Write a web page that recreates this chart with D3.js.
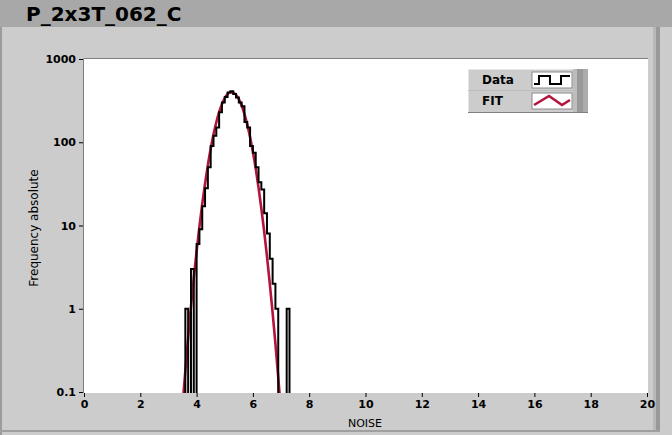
<!DOCTYPE html>
<html><head><meta charset="utf-8">
<script src="https://cdn.jsdelivr.net/npm/d3@7"></script>
<style>
html,body{margin:0;padding:0;background:#cccccc;}
svg{display:block;}
text{font-family:"DejaVu Sans",Verdana,sans-serif;}
</style></head>
<body>
<svg id="chart" width="672" height="435"></svg>
<script>
// ---- data ----
const chartTitle = "P_2x3T_062_C";
const binStart = [3.6,3.7,3.8,3.9,4.0,4.1,4.2,4.3,4.4,4.5,4.6,4.7,4.8,4.9,5.0,5.1,5.2,5.3,5.4,5.5,5.6,5.7,5.8,5.9,6.0,6.1,6.2,6.3,6.4,6.5,6.6,6.7,6.8,6.9,7.0,7.1,7.2];
const dataCounts = [1,0,3,0,6,9,17,28,50,90,120,150,230,300,350,395,410,380,345,300,270,175,150,90,75,50,33,27,14,8,4,2,1,0,0,0,1];
const binWidth = 0.1;
const fitX = [3.5,3.6,3.7,3.8,3.9,4.0,4.1,4.2,4.3,4.4,4.5,4.6,4.7,4.8,4.9,5.0,5.1,5.2,5.3,5.4,5.5,5.6,5.7,5.8,5.9,6.0,6.1,6.2,6.3,6.4,6.5,6.6,6.7,6.8,6.9,7.0];
const fitY = [0.069,0.18,0.45,1.06,2.35,4.9,9.7,18.1,31.9,53.1,83.4,124,174,230,287,339,378,398,396,372,330,276,218,163,115,76.6,48.2,28.6,16.0,8.5,4.25,2.0,0.90,0.38,0.15,0.057];
const xTicks = [0,2,4,6,8,10,12,14,16,18,20];
const yTicks = [0.1,1,10,100,1000];
const yTickLabels = ["0.1","1","10","100","1000"];
const legendNames = ["Data","FIT"];
const xLabel = "NOISE";
const yLabel = "Frequency absolute";

// ---- layout ----
const svg = d3.select("#chart");
const W = 672, H = 435;
const x = d3.scaleLinear().domain([0,20]).range([84,647]);
const y = d3.scaleLog().domain([0.1,1000]).range([392,59]);
const dataColor = "#000000", fitColor = "#b4143c";

// background & frame
svg.append("rect").attr("x",0).attr("y",0).attr("width",W).attr("height",H).attr("fill","#cccccc");
svg.append("rect").attr("x",0).attr("y",0).attr("width",W).attr("height",27).attr("fill","#a8a8a8");
svg.append("rect").attr("x",0).attr("y",27).attr("width",2).attr("height",H-27).attr("fill","#9c9c9c");
svg.append("rect").attr("x",653).attr("y",27).attr("width",3).attr("height",404).attr("fill","#b8b8b8");
svg.append("rect").attr("x",656).attr("y",27).attr("width",4).attr("height",404).attr("fill","#999999");
svg.append("rect").attr("x",0).attr("y",430).attr("width",660).attr("height",2).attr("fill","#a0a0a0");
svg.append("text").attr("x",26).attr("y",21).attr("font-size",20).attr("font-weight","bold")
  .attr("fill","#000").text(chartTitle);

// plot area
svg.append("rect").attr("x",83).attr("y",58).attr("width",565).attr("height",335).attr("fill","#ffffff");
svg.append("path").attr("d","M83.5,393V58.5H648").attr("fill","none").attr("stroke","#808080").attr("stroke-width",1);

svg.append("clipPath").attr("id","clip").append("rect").attr("x",83).attr("y",58).attr("width",565).attr("height",335);
const g = svg.append("g").attr("clip-path","url(#clip)");

// fit line
const fitPts = fitX.map((v,i)=>[v,fitY[i]]);
g.append("path").datum(fitPts)
  .attr("d", d3.line().x(d=>x(d[0])).y(d=>y(Math.max(d[1],0.01))).curve(d3.curveMonotoneX))
  .attr("fill","none").attr("stroke",fitColor).attr("stroke-width",2.6);

// data histogram (step)
const floorV = 0.01;
const stepPts = [[binStart[0], floorV]];
binStart.forEach((b,i)=>{
  const v = dataCounts[i] > 0 ? dataCounts[i] : floorV;
  stepPts.push([b, v]); stepPts.push([b+binWidth, v]);
});
stepPts.push([binStart[binStart.length-1]+binWidth, floorV]);
g.append("path").datum(stepPts)
  .attr("d", d3.line().x(d=>x(d[0])).y(d=>y(d[1])))
  .attr("fill","none").attr("stroke",dataColor).attr("stroke-width",2).attr("stroke-linejoin","miter");

// axes
const xAxis = d3.axisBottom(x).tickValues(xTicks).tickSize(4).tickPadding(3).tickFormat(d3.format("d"));
const xa = svg.append("g").attr("transform","translate(0,393)").call(xAxis);
xa.select(".domain").remove();
xa.selectAll("line").attr("stroke","#000");
xa.selectAll("text").attr("font-size",11).attr("font-weight","bold").attr("fill","#000").attr("font-family","DejaVu Sans, sans-serif");

const yAxis = d3.axisLeft(y).tickValues(yTicks).tickSize(4).tickPadding(3).tickFormat((d,i)=>yTickLabels[i]);
const ya = svg.append("g").attr("transform","translate(83,0)").call(yAxis);
ya.select(".domain").remove();
ya.selectAll("line").attr("stroke","#000");
ya.selectAll("text").attr("font-size",11).attr("font-weight","bold").attr("fill","#000").attr("font-family","DejaVu Sans, sans-serif");

svg.append("text").attr("x",365).attr("y",427).attr("text-anchor","middle").attr("font-size",11).attr("fill","#000").text(xLabel);
svg.append("text").attr("transform","translate(38,228) rotate(-90)").attr("text-anchor","middle")
  .attr("font-size",12).attr("fill","#000").text(yLabel);

// legend
const lg = svg.append("g");
lg.append("rect").attr("x",468).attr("y",69).attr("width",120).attr("height",43).attr("fill","#cccccc");
lg.append("path").attr("d","M468.5,112V69.5H588").attr("fill","none").attr("stroke","#e6e6e6");
lg.append("path").attr("d","M468,112.5H588").attr("fill","none").attr("stroke","#808080");
lg.append("rect").attr("x",573).attr("y",69).attr("width",4).attr("height",43).attr("fill","#bdbdbd");
lg.append("rect").attr("x",577).attr("y",69).attr("width",6).attr("height",43).attr("fill","#999999");
lg.append("rect").attr("x",583).attr("y",69).attr("width",5).attr("height",43).attr("fill","#acacac");
lg.append("line").attr("x1",468).attr("x2",573).attr("y1",90.5).attr("y2",90.5).attr("stroke","#bdbdbd");
legendNames.forEach((n,i)=>{
  const ty = 84 + i*21;
  lg.append("text").attr("x",482).attr("y",ty).attr("font-size",12).attr("font-weight","bold").attr("fill","#000").text(n);
  lg.append("rect").attr("x",532).attr("y",72+i*21).attr("width",40).attr("height",16).attr("fill","#ffffff")
    .attr("stroke","#8a8a8a").attr("stroke-width",1);
});
lg.append("path").attr("d","M534,84H539V76H550V84H561V76H570").attr("fill","none").attr("stroke","#000").attr("stroke-width",2);
lg.append("path").attr("d","M534,105L549,96L562,105L570,100").attr("fill","none").attr("stroke",fitColor).attr("stroke-width",2.6);
</script>
</body></html>
